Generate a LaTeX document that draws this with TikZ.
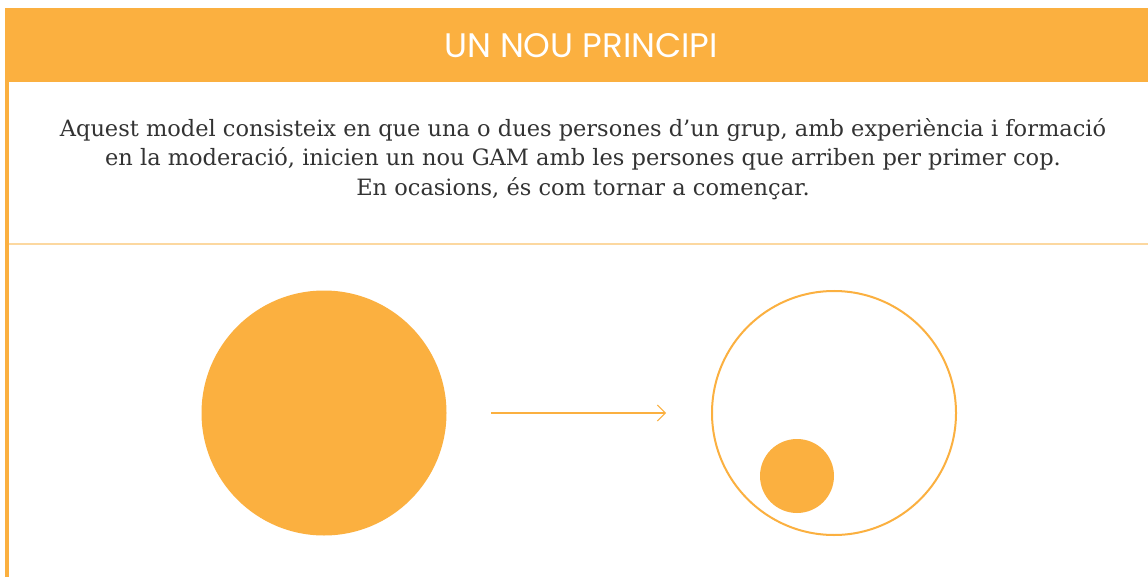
\documentclass[tikz,border=0pt]{standalone}
\usepackage{fontspec}
\setmainfont{DejaVu Serif}
\newfontfamily\titlefont{Poppins}
\usetikzlibrary{arrows.meta}
\usetikzlibrary{positioning}

\definecolor{gamorange}{HTML}{FBB040}
\definecolor{gamlight}{HTML}{FCD8A0}
\definecolor{gamtext}{HTML}{333333}

\begin{document}
\begin{tikzpicture}[x=1pt, y=-1pt,
    fullcircle/.style={circle, fill=gamorange, inner sep=0pt},
    ringcircle/.style={circle, draw=gamorange, line width=2pt, inner sep=0pt},
    flowarrow/.style={draw=gamorange, line width=2pt,
      -{Straight Barb[length=8pt, width=16pt, line width=1pt]}}
  ]
  \useasboundingbox[fill=white] (0, 0) rectangle (1148, 577);

  % header band and frame
  \fill[gamorange] (5, 8) rectangle (1148, 82);
  \fill[gamorange] (5, 82) rectangle (8.5, 577);
  \draw[gamlight, line width=2pt] (8.5, 244) -- (1148, 244);

  \node[text=white, font=\titlefont\fontsize{34}{40}\selectfont] (title)
    at (581, 46) {UN NOU PRINCIPI};

  \node[text=gamtext, align=center, font=\fontsize{22.5}{29.5}\selectfont] (intro)
    at (583, 159) {Aquest model consisteix en que una o dues persones d’un grup, amb experiència i formació\\
    en la moderació, inicien un nou GAM amb les persones que arriben per primer cop.\\
    En ocasions, és com tornar a començar.};

  % before and after
  \node[fullcircle, minimum size=245pt] (grup) at (324, 413) {};
  \node[ringcircle, minimum size=244pt] (nougrup) at (834, 413) {};
  \node[fullcircle, minimum size=74pt] (nougam) at (797, 476) {};

  \coordinate (arrowstart) at (491, 413);
  \coordinate (arrowend) at (666, 413);
  \draw[flowarrow] (arrowstart) -- (arrowend);
\end{tikzpicture}
\end{document}
